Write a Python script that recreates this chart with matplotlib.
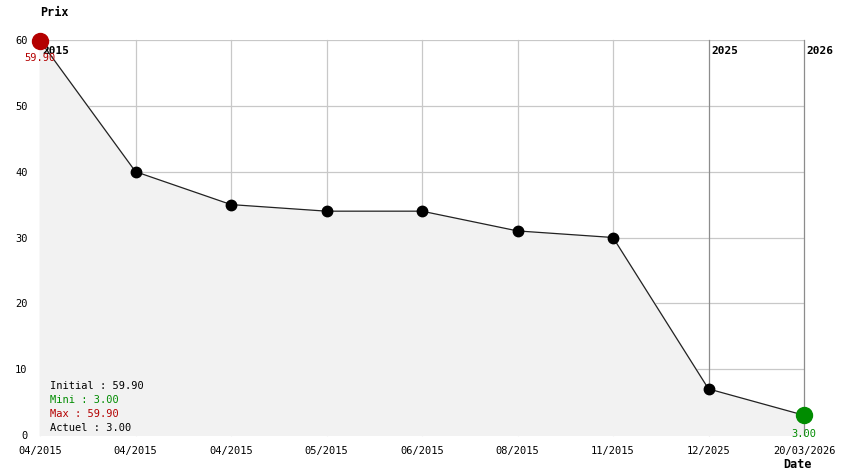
import numpy as np
import matplotlib.pyplot as plt

# price history
dates = ["04/2015", "04/2015", "04/2015", "05/2015", "06/2015",
         "08/2015", "11/2015", "12/2025", "20/03/2026"]
prices = [59.90, 40, 35, 34, 34, 31, 30, 7, 3.00]
year_marks = {0: "2015", 7: "2025", 8: "2026"}
yticks = [0, 10, 20, 30, 40, 50, 60]

RED = "#b40000"
GREEN = "#008c00"
FONT = "DejaVu Sans Mono"

fig = plt.figure(figsize=(8.44, 4.74), dpi=100)
ax = fig.add_axes([40 / 844, 39 / 474, 764 / 844, 395 / 474])

x = np.arange(len(dates))
ax.set_xlim(0, len(dates) - 1)
ax.set_ylim(0, 60)

# grid
for yv in yticks[1:]:
    ax.axhline(yv, color="#c8c8c8", lw=0.9, zorder=0)
for i in x:
    col = "#8c8c8c" if i in year_marks and i != 0 else "#c8c8c8"
    ax.axvline(i, color=col, lw=0.9, zorder=0.5 if i == x[-1] else 0,
               clip_on=False)

ax.fill_between(x, prices, 0, color="#f2f2f2", zorder=0.2)
ax.plot(x, prices, color="#222222", lw=0.9, zorder=2)
ax.plot(x[1:-1], prices[1:-1], "o", color="black", ms=7.5, zorder=3)
ax.plot(x[0], prices[0], "o", color=RED, ms=11.5, zorder=4, clip_on=False)
ax.plot(x[-1], prices[-1], "o", color=GREEN, ms=11.5, zorder=4, clip_on=False)

for i, lab in year_marks.items():
    ax.text(i + 0.03, 58.4, lab, fontsize=8, fontweight="bold", family=FONT,
            va="center", ha="left", zorder=3)

ax.text(0, 57.2, "%.2f" % prices[0], color=RED, fontsize=7.5, family=FONT,
        ha="center", va="center", zorder=5)
ax.text(x[-1], 0.2, "%.2f" % prices[-1], color=GREEN, fontsize=7.5, family=FONT,
        ha="center", va="center", zorder=5)

# summary box
summary = [("Initial : %.2f" % prices[0], "black"),
           ("Mini : %.2f" % min(prices), GREEN),
           ("Max : %.2f" % max(prices), RED),
           ("Actuel : %.2f" % prices[-1], "black")]
for k, (txt, c) in enumerate(summary):
    ax.text(0.1, 7.4 - k * 2.13, txt, color=c, fontsize=7.5, family=FONT,
            va="center", ha="left", zorder=5)

ax.set_xticks(x)
ax.set_xticklabels(dates, family=FONT, fontsize=7.5)
ax.set_yticks(yticks)
ax.set_yticklabels([str(v) for v in yticks], family=FONT, fontsize=7.5)
ax.tick_params(length=0, pad=9)
ax.tick_params(axis="x", pad=8)
for s in ax.spines.values():
    s.set_visible(False)

fig.text(40 / 844, 1 - 12 / 474, "Prix", fontsize=8.5, fontweight="bold",
         family=FONT, ha="left", va="center")
fig.text(783 / 844, 1 - 464 / 474, "Date", fontsize=8.5, fontweight="bold",
         family=FONT, ha="left", va="center")

fig.savefig("out.png", dpi=100)
